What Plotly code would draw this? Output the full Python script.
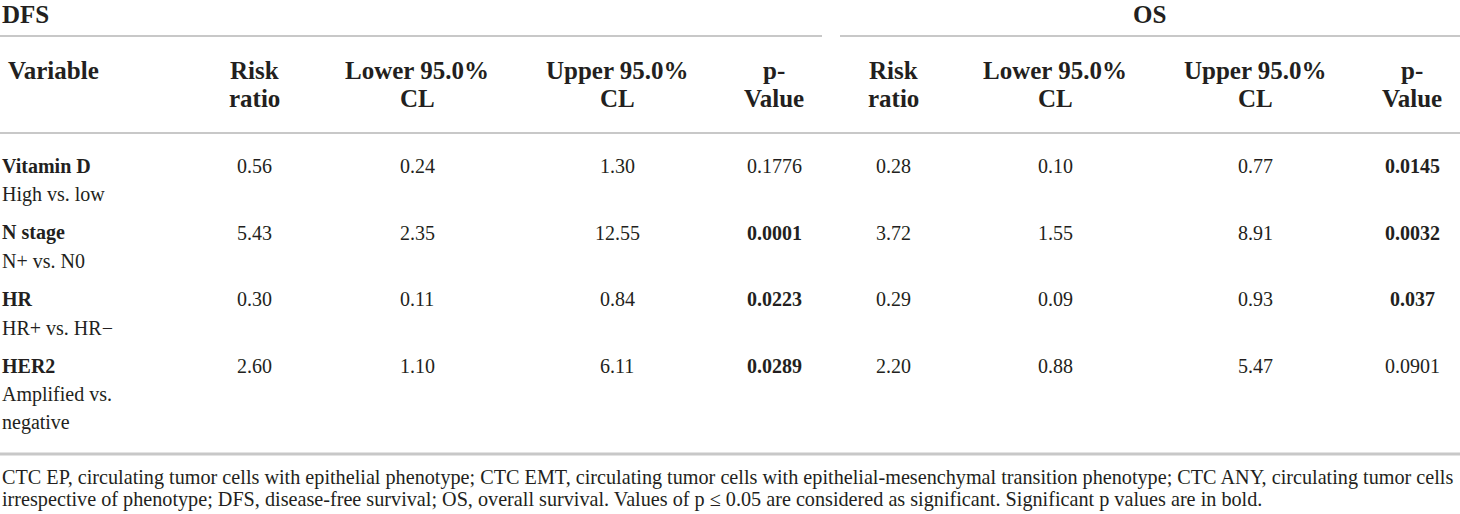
import plotly.graph_objects as go

# ---- data ----
variables = ["Vitamin D", "N stage", "HR", "HER2"]
comparisons = [["High vs. low"], ["N+ vs. N0"], ["HR+ vs. HR\u2212"], ["Amplified vs.", "negative"]]
dfs_rr = ["0.56", "5.43", "0.30", "2.60"]
dfs_lower = ["0.24", "2.35", "0.11", "1.10"]
dfs_upper = ["1.30", "12.55", "0.84", "6.11"]
dfs_p = ["0.1776", "0.0001", "0.0223", "0.0289"]
os_rr = ["0.28", "3.72", "0.29", "2.20"]
os_lower = ["0.10", "1.55", "0.09", "0.88"]
os_upper = ["0.77", "8.91", "0.93", "5.47"]
os_p = ["0.0145", "0.0032", "0.037", "0.0901"]
dfs_p_bold = [False, True, True, True]
os_p_bold = [True, True, True, False]
col_headers = [["Risk", "ratio"], ["Lower 95.0%", "CL"], ["Upper 95.0%", "CL"], ["p-", "Value"]]
group_titles = ["DFS", "OS"]
footnote = [
    "CTC EP, circulating tumor cells with epithelial phenotype; CTC EMT, circulating tumor cells with epithelial-mesenchymal transition phenotype; CTC ANY, circulating tumor cells",
    "irrespective of phenotype; DFS, disease-free survival; OS, overall survival. Values of p \u2264 0.05 are considered as significant. Significant p values are in bold.",
]

# ---- layout constants ----
W, H = 1460, 514
FONT = "Liberation Serif"
TXT = "#231f20"
LINE = "#c8c8c8"
dfs_cols_x = [254, 417, 617, 774]
os_cols_x = [893, 1055, 1255, 1412]
row_y0, row_step, sub_step = 166, 66.5, 28.5
BODY = 20
HEAD = 25
FOOT = 20.2

fig = go.Figure()
fig.add_trace(go.Scatter(x=[0, W], y=[0, H], mode="markers", marker=dict(opacity=0), hoverinfo="skip", showlegend=False))

ann = []
def t(x, y, s, size=BODY, bold=False, xa="center"):
    ann.append(dict(x=x, y=y, xref="x", yref="y", text=("<b>%s</b>" % s) if bold else s,
                    showarrow=False, xanchor=xa, yanchor="middle",
                    font=dict(family=FONT, size=size, color=TXT)))

# group titles
t(0, 14, group_titles[0], size=HEAD, bold=True, xa="left")
t(1149, 14, group_titles[1], size=HEAD, bold=True)

# header
t(6, 70, "Variable", size=HEAD, bold=True, xa="left")
for cols in (dfs_cols_x, os_cols_x):
    for cx, hdr in zip(cols, col_headers):
        for k, line in enumerate(hdr):
            t(cx, 70 + 28 * k, line, size=HEAD, bold=True)

# body
for i, v in enumerate(variables):
    y = row_y0 + row_step * i
    t(0, y, v, bold=True, xa="left")
    for k, c in enumerate(comparisons[i]):
        t(0, y + sub_step * (k + 1), c, xa="left")
    vals_d = [dfs_rr[i], dfs_lower[i], dfs_upper[i], dfs_p[i]]
    vals_o = [os_rr[i], os_lower[i], os_upper[i], os_p[i]]
    for j in range(4):
        t(dfs_cols_x[j], y, vals_d[j], bold=(j == 3 and dfs_p_bold[i]))
        t(os_cols_x[j], y, vals_o[j], bold=(j == 3 and os_p_bold[i]))

# footnote
for k, line in enumerate(footnote):
    t(0, 477 + 22 * k, line, size=FOOT, xa="left")

shapes = [
    dict(type="line", xref="x", yref="y", x0=0, x1=822, y0=36, y1=36, line=dict(color=LINE, width=2)),
    dict(type="line", xref="x", yref="y", x0=840, x1=W, y0=36, y1=36, line=dict(color=LINE, width=2)),
    dict(type="line", xref="x", yref="y", x0=0, x1=W, y0=133, y1=133, line=dict(color=LINE, width=2)),
    dict(type="line", xref="x", yref="y", x0=0, x1=W, y0=454, y1=454, line=dict(color=LINE, width=3)),
]

fig.update_layout(
    width=W, height=H, margin=dict(l=0, r=0, t=0, b=0),
    paper_bgcolor="white", plot_bgcolor="white",
    xaxis=dict(range=[0, W], visible=False, fixedrange=True),
    yaxis=dict(range=[H, 0], visible=False, fixedrange=True),
    annotations=ann, shapes=shapes, showlegend=False,
)
fig.write_html("out.html", config={"displayModeBar": False},
               post_script="document.body.style.margin='0';document.body.style.overflow='hidden';")
